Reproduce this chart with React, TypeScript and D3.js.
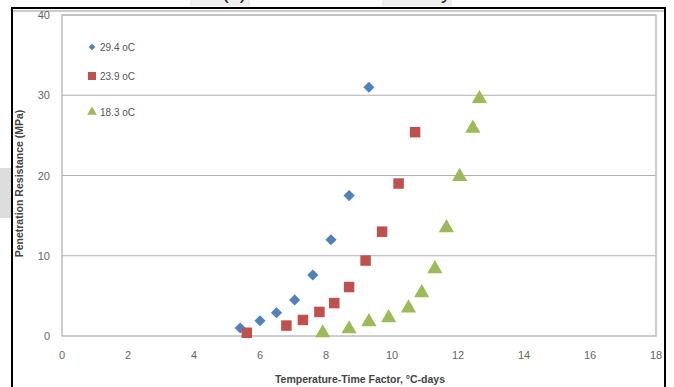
import React, { useEffect, useRef } from 'react';
import * as d3 from 'd3';

// data
const seriesNames = ['29.4 oC', '23.9 oC', '18.3 oC'];
const seriesColors = ['#4F81BD', '#C0504D', '#9BBB59'];

const x294 = [5.4, 6.0, 6.5, 7.05, 7.6, 8.15, 8.7, 9.3];
const y294 = [1.0, 1.9, 2.9, 4.5, 7.6, 12.0, 17.5, 31.0];

const x239 = [5.6, 6.8, 7.3, 7.8, 8.25, 8.7, 9.2, 9.7, 10.2, 10.7];
const y239 = [0.4, 1.3, 2.0, 3.0, 4.1, 6.1, 9.4, 13.0, 19.0, 25.4];

const x183 = [7.9, 8.7, 9.3, 9.9, 10.5, 10.9, 11.3, 11.65, 12.05, 12.45, 12.65];
const y183 = [0.5, 1.0, 1.9, 2.4, 3.6, 5.5, 8.5, 13.6, 20.0, 26.0, 29.7];

const xTicks = [0, 2, 4, 6, 8, 10, 12, 14, 16, 18];
const yTicks = [0, 10, 20, 30, 40];

const App: React.FC = () => {
  const svgRef = useRef<SVGSVGElement>(null);

  useEffect(() => {
    if (!svgRef.current) return;
    const svg = d3.select(svgRef.current);
    svg.selectAll('*').remove();

    const width = 674;
    const height = 387;
    const plot = { left: 62, right: 656, top: 15, bottom: 336 };
    const font = "'Liberation Sans', Arial, sans-serif";

    const x = d3.scaleLinear().domain([0, 18]).range([plot.left, plot.right]);
    const y = d3.scaleLinear().domain([0, 40]).range([plot.bottom, plot.top]);

    svg.attr('width', width).attr('height', height);
    svg.append('rect').attr('width', width).attr('height', height).attr('fill', '#fff');

    // cropped title remnants above the frame (only descenders show)
    svg.append('rect').attr('x', 190).attr('y', 0).attr('width', 60).attr('height', 6).attr('fill', '#eee');
    svg.append('rect').attr('x', 382).attr('y', 0).attr('width', 70).attr('height', 6).attr('fill', '#eee');
    svg.append('text')
      .attr('x', 222).attr('y', -1)
      .attr('font-family', font).attr('font-size', 20).attr('fill', '#222')
      .text('(a) Mortar Set Time Study');

    // gray shadow at left edge
    svg.append('rect').attr('x', 0).attr('y', 168).attr('width', 11).attr('height', 50).attr('fill', '#ddd');

    // frame
    svg.append('path')
      .attr('d', `M12,${height + 2}V8H665V${height + 2}`)
      .attr('fill', 'none').attr('stroke', '#000').attr('stroke-width', 2);
    svg.append('line')
      .attr('x1', 13).attr('x2', 664).attr('y1', 11).attr('y2', 11)
      .attr('stroke', '#ccc').attr('stroke-width', 2);

    // gridlines
    svg.append('g')
      .selectAll('line')
      .data(yTicks.filter(t => t > 0))
      .enter()
      .append('line')
      .attr('x1', plot.left).attr('x2', plot.right)
      .attr('y1', d => y(d)).attr('y2', d => y(d))
      .attr('stroke', '#b0b0b0').attr('stroke-width', 1.2);

    // plot border
    svg.append('rect')
      .attr('x', plot.left).attr('y', plot.top)
      .attr('width', plot.right - plot.left).attr('height', plot.bottom - plot.top)
      .attr('fill', 'none').attr('stroke', '#bdbdbd').attr('stroke-width', 1.5);

    // tick labels
    svg.append('g')
      .selectAll('text')
      .data(yTicks)
      .enter()
      .append('text')
      .attr('x', 50).attr('y', d => y(d) + 4)
      .attr('text-anchor', 'end')
      .attr('font-family', font).attr('font-size', 11).attr('fill', '#666')
      .text(d => d);

    svg.append('g')
      .selectAll('text')
      .data(xTicks)
      .enter()
      .append('text')
      .attr('x', d => x(d)).attr('y', 359)
      .attr('text-anchor', 'middle')
      .attr('font-family', font).attr('font-size', 11).attr('fill', '#666')
      .text(d => d);

    // axis titles
    svg.append('text')
      .attr('transform', `translate(23,${(plot.top + plot.bottom) / 2 + 8}) rotate(-90)`)
      .attr('text-anchor', 'middle')
      .attr('font-family', font).attr('font-size', 10.5).attr('font-weight', 'bold').attr('fill', '#444')
      .text('Penetration Resistance (MPa)');

    svg.append('text')
      .attr('x', 360).attr('y', 383)
      .attr('text-anchor', 'middle')
      .attr('font-family', font).attr('font-size', 10.5).attr('font-weight', 'bold').attr('fill', '#444')
      .text('Temperature-Time Factor, \u00B0C-days');

    // marker shapes: diamond as a rotated square, Excel-like
    const markerPath = (i: number, s: number) =>
      i === 0
        ? d3.symbol().type(d3.symbolSquare).size(s)()
        : d3.symbol().type(i === 1 ? d3.symbolSquare : d3.symbolTriangle).size(s)();
    const markerRot = (i: number) => (i === 0 ? ' rotate(45)' : '');

    const seriesX = [x294, x239, x183];
    const seriesY = [y294, y239, y183];
    const sizes = [62, 110, 100];

    seriesX.forEach((xs, si) => {
      const pts = xs.map((v, i) => [v, seriesY[si][i]]);
      svg.append('g')
        .selectAll('path')
        .data(pts)
        .enter()
        .append('path')
        .attr('d', markerPath(si, sizes[si]))
        .attr('transform', d => `translate(${x(d[0])},${y(d[1]) + (si === 2 ? 1 : 0)})${markerRot(si)}`)
        .attr('fill', seriesColors[si]);
    });

    // legend
    const legendY = [47, 76, 112];
    const legendSizes = [22, 64, 40];
    seriesNames.forEach((name, i) => {
      const g = svg.append('g').attr('transform', `translate(92,${legendY[i]})`);
      g.append('path')
        .attr('d', markerPath(i, legendSizes[i]))
        .attr('transform', markerRot(i).trim())
        .attr('fill', seriesColors[i]);
      g.append('text')
        .attr('x', 8).attr('y', 4)
        .attr('font-family', font).attr('font-size', 10).attr('fill', '#555')
        .text(name);
    });
  }, []);

  return (
    <div style={{ position: 'absolute', left: 0, top: 0 }}>
      <svg ref={svgRef} style={{ display: 'block' }}></svg>
    </div>
  );
};

export default App;
